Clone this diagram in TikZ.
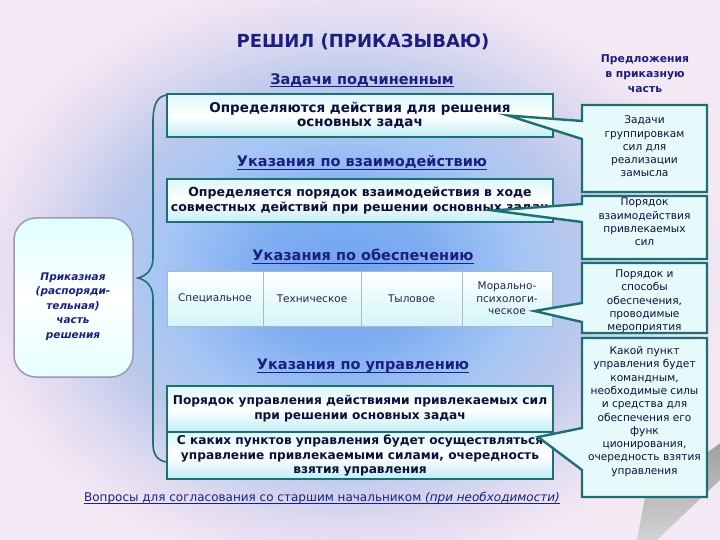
\documentclass[tikz,border=0pt]{standalone}
\usepackage{fontspec}
\setmainfont{DejaVu Sans}
\usetikzlibrary{calc}
\definecolor{navy}{HTML}{1B1F7E}
\definecolor{ink}{HTML}{0E0E3A}
\definecolor{teal1}{HTML}{1E6F72}
\definecolor{boxtop}{HTML}{DDF7FB}
\definecolor{boxbot}{HTML}{C2EEF6}
\definecolor{callfill}{HTML}{E6FAFC}
\definecolor{cellb}{HTML}{AEB8C4}
\definecolor{cellbot}{HTML}{D3F4FA}
\definecolor{leftb}{HTML}{A096B4}
\definecolor{bgA}{HTML}{6FA4F0}
\definecolor{bgB}{HTML}{80AEF2}
\definecolor{bgC}{HTML}{A6C6F4}
\definecolor{bgD}{HTML}{BCC8EC}
\definecolor{bgF}{HTML}{E2DCF1}
\definecolor{bgE}{HTML}{F4E8F4}
\pgfdeclareradialshading{bgshade}{\pgfpoint{0bp}{0bp}}{color(0bp)=(bgA); color(12bp)=(bgB); color(24bp)=(bgC); color(32bp)=(bgD); color(42bp)=(bgF); color(50bp)=(bgE)}
\newcommand{\fsz}[2]{\fontsize{#1}{#2}\selectfont}
\begin{document}
\begin{tikzpicture}[x=1pt,y=-1pt,
  heading/.style={font=\bfseries\fsz{14.5}{17}, text=navy, inner sep=0pt},
  uline/.style={draw=navy, line width=1pt},
  mainbox/.style={draw=teal1, line width=2pt, top color=boxtop, bottom color=boxbot, middle color=white,
     minimum width=386pt, align=center, text=ink, inner sep=0pt},
  cell/.style={draw=cellb, line width=0.6pt, top color=white, bottom color=cellbot,
     minimum height=55pt, align=center, font=\fsz{10.5}{12.5}, text=ink!80!gray, inner sep=0pt},
  callout/.style={draw=teal1, line width=2.4pt, fill=callfill, line join=miter},
  calltext/.style={font=\fsz{10.6}{13.3}, align=center, text=ink, inner sep=0pt},
  bracestyle/.style={draw=teal1, line width=1.6pt}]
\useasboundingbox (0,0) rectangle (720,540);
% background
\fill[bgE] (0,0) rectangle (720,540);
\begin{scope}
  \clip (0,0) rectangle (720,540);
  \node[inner sep=0pt, outer sep=0pt, xscale=7.6, yscale=6.0] (bg) at (345,275) {\pgfuseshading{bgshade}};
  % page curl shadow
  \shade[top color=gray!75, bottom color=gray!35] (722,442) -- (645,497) -- (637,540) -- (657,540) -- (722,478) -- cycle;
\end{scope}

% left node
\path[draw=leftb, line width=1.5pt, rounded corners=22pt, top color=cyan!13, bottom color=cyan!10, middle color=white]
  (14,218) rectangle (133,377);
\node[font=\bfseries\itshape\fsz{10.5}{14.6}, text=navy, align=center] (L) at (73,306.5)
  {Приказная\\(распоряди-\\тельная)\\часть\\решения};

% brace
\coordinate (bt) at (138,278);
\draw[bracestyle] (167,95) .. controls (157,96) and (153,105) .. (153,122) -- (153,258)
   .. controls (153,270) and (146,276) .. (bt)
   .. controls (146,280) and (153,286) .. (153,298) -- (153,444)
   .. controls (153,455) and (158,461) .. (167,462);

% title and headings
\node[font=\bfseries\fsz{18}{20}, text=navy, inner sep=0pt] (title) at (363,42) {РЕШИЛ (ПРИКАЗЫВАЮ)};
\node[heading] (h1) at (362,80) {Задачи подчиненным};
\node[heading] (h2) at (362,162) {Указания по взаимодействию};
\node[heading] (h3) at (363,255) {Указания по обеспечению};
\node[heading] (h4) at (363,366) {Указания по управлению};
\foreach \h in {h1,h2,h3,h4}{
  \draw[uline] ($(\h.base west)+(0,2.5)$) -- ($(\h.base east)+(0,2.5)$);
}

% boxes
\node[mainbox, minimum height=43pt, font=\bfseries\fsz{13.5}{14}] (b1) at (360,115.5)
  {Определяются действия для решения\\основных задач};
\node[mainbox, minimum height=43pt, font=\bfseries\fsz{12.5}{15}] (b2) at (360,200.5)
  {Определяется порядок взаимодействия в ходе\\совместных действий при решении основных задач};

% table
\node[cell, minimum width=96pt] (s1) at (215,298.5) {Специальное};
\node[cell, minimum width=98pt] (s2) at (312,298.5) {Техническое};
\node[cell, minimum width=101pt] (s3) at (411.5,298.5) {Тыловое};
\node[cell, minimum width=90pt] (s4) at (507,298.5) {Морально-\\психологи-\\ческое};

\node[mainbox, minimum height=46pt, font=\bfseries\fsz{12.2}{15}] (b3) at (360,409)
  {Порядок управления действиями привлекаемых сил\\при решении основных задач};
\node[mainbox, minimum height=47pt, font=\bfseries\fsz{12.2}{14.5}] (b4) at (360,455.5)
  {С каких пунктов управления будет осуществляться\\управление привлекаемыми силами, очередность\\взятия управления};

\node[font=\fsz{12}{14}, text=navy, inner sep=0pt] (q) at (322,498)
  {Вопросы для согласования со старшим начальником \textit{(при необходимости)}};
\draw[draw=navy, line width=0.8pt] ($(q.base west)+(0,2)$) -- ($(q.base east)+(0,2)$);

% right column
\node[font=\bfseries\fsz{10.8}{15}, text=navy, align=center] (prop) at (645,74) {Предложения\\в приказную\\часть};

\coordinate (p1) at ($(b1.east)+(-46,0)$);
\coordinate (p2) at ($(b2.east)+(-61,10)$);
\coordinate (p3) at ($(s4.east)+(-18,12.5)$);
\coordinate (p4) at ($(b4.north east)+(-16,6)$);

\path[callout] (582,105) -- (707,105) -- (707,192) -- (582,192) -- (582,139) -- (p1) -- (582,121) -- cycle;
\path[callout] (582,196) -- (707,196) -- (707,259) -- (582,259) -- (582,222) -- (p2) -- (582,204) -- cycle;
\path[callout] (582,263) -- (707,263) -- (707,333) -- (582,333) -- (582,322) -- (p3) -- (582,303) -- cycle;
\path[callout] (582,338) -- (707,338) -- (707,497) -- (582,497) -- (582,470) -- (p4) -- (582,428) -- cycle;

\node[calltext] (c1) at (644.5,146.5) {Задачи\\группировкам\\сил для\\реализации\\замысла};
\node[calltext] (c2) at (644.5,222) {Порядок\\взаимодействия\\привлекаемых\\сил};
\node[calltext] (c3) at (644.5,301.5) {Порядок и\\способы\\обеспечения,\\проводимые\\мероприятия};
\node[calltext] (c4) at (644.5,411.5) {Какой пункт\\управления будет\\командным,\\необходимые силы\\и средства для\\обеспечения его\\функ\\ционирования,\\очередность взятия\\управления};
\end{tikzpicture}
\end{document}
